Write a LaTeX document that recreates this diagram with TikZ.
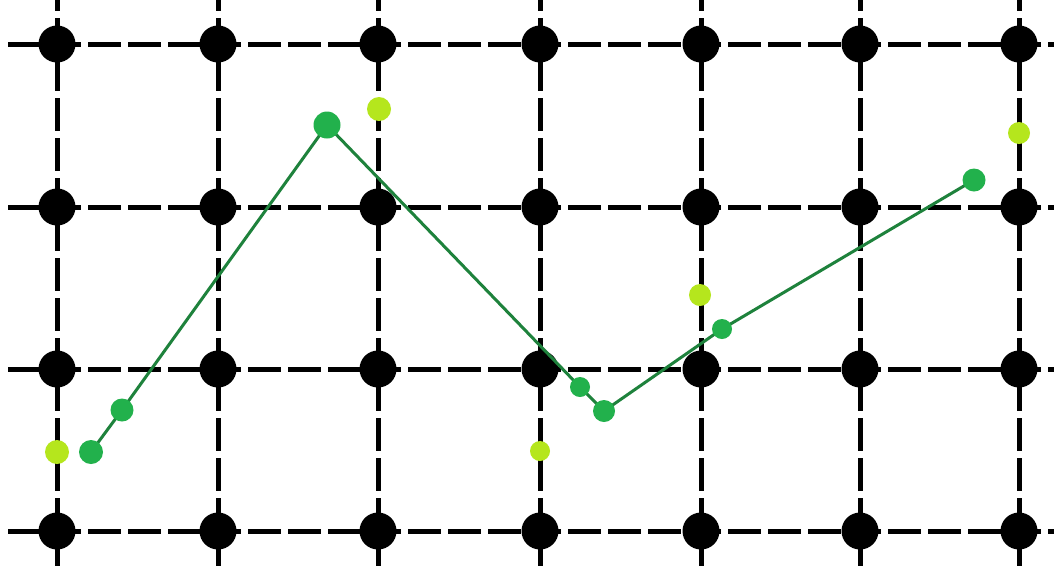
\documentclass[tikz,border=0pt]{standalone}
\definecolor{dotgreen}{RGB}{34,177,76}
\definecolor{linegreen}{RGB}{30,130,60}
\definecolor{lime}{RGB}{181,230,29}
\begin{document}
\begin{tikzpicture}[x=1pt,y=-1pt,
  gridline/.style={line width=5pt,dash pattern=on 33pt off 7pt},
  gdot/.style={circle,fill=black,minimum size=37pt,inner sep=0pt},
  pdot/.style={circle,fill=dotgreen,inner sep=0pt},
  ydot/.style={circle,fill=lime,inner sep=0pt},
  pline/.style={linegreen,line width=3pt}]
\useasboundingbox (0,0) rectangle (1054,566);
\fill[white] (0,0) rectangle (1054,566);
% grid lines
\foreach \x in {57,218,378,540,701,860,1019}
  \draw[gridline,dash phase=22pt] (\x,0) -- (\x,566);
\foreach \y in {44,207,369,531}
  \draw[gridline] (8,\y) -- (1054,\y);
% grid dots
\foreach \x [count=\i] in {57,218,378,540,701,860,1019}
  \foreach \y [count=\j] in {44,207,369,531}
    \node[gdot] (g\i\j) at (\x,\y) {};
% yellow-green dots
\node[ydot,minimum size=24pt] (y1) at (57,452) {};
\node[ydot,minimum size=24pt] (y2) at (379,109) {};
\node[ydot,minimum size=20pt] (y3) at (540,451) {};
\node[ydot,minimum size=22pt] (y4) at (700,295) {};
\node[ydot,minimum size=22pt] (y5) at (1019,133) {};
% green path
\coordinate (c1) at (91,452);
\coordinate (c2) at (122,410);
\coordinate (c3) at (327,125);
\coordinate (c4) at (580,387);
\coordinate (c5) at (604,411);
\coordinate (c6) at (722,329);
\coordinate (c7) at (974,180);
\draw[pline] (c1) -- (c2) -- (c3) -- (c4) -- (c5) -- (c6) -- (c7);
\node[pdot,minimum size=24pt] (p1) at (c1) {};
\node[pdot,minimum size=23pt] (p2) at (c2) {};
\node[pdot,minimum size=27pt] (p3) at (c3) {};
\node[pdot,minimum size=20pt] (p4) at (c4) {};
\node[pdot,minimum size=22pt] (p5) at (c5) {};
\node[pdot,minimum size=20pt] (p6) at (c6) {};
\node[pdot,minimum size=23pt] (p7) at (c7) {};
\end{tikzpicture}
\end{document}
